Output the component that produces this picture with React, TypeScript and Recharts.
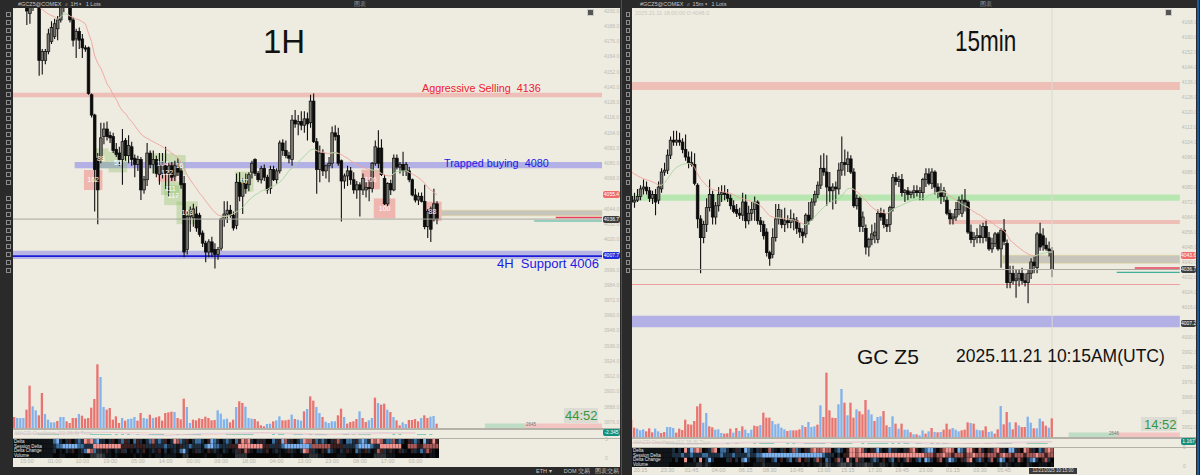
import { Bar, BarChart, Cell, ComposedChart, Line, ReferenceArea, ReferenceLine, XAxis, YAxis } from "recharts";

// ---------- left chart (1H) : [open, high, low, close]
const leftCandles = [
  [4215, 4222, 4208, 4212], [4212, 4218, 4206, 4216], [4216, 4224, 4210, 4210], [4210, 4216, 4205, 4214],
  [4212, 4216, 4189, 4200], [4198, 4210, 4190, 4204], [4204, 4214, 4200, 4210], [4210, 4222, 4204, 4212],
  [4212, 4218, 4149, 4161], [4161, 4170, 4150, 4168], [4161, 4170, 4158, 4168], [4168, 4186, 4166, 4182],
  [4176, 4192, 4174, 4187], [4180, 4194, 4178, 4190], [4186, 4196, 4177, 4193], [4193, 4204, 4191, 4203],
  [4203, 4214, 4199, 4210], [4210, 4220, 4204, 4206], [4203, 4210, 4191, 4193], [4193, 4195, 4172, 4177],
  [4178, 4186, 4163, 4184], [4184, 4187, 4170, 4177], [4178, 4182, 4163, 4171], [4171, 4173, 4168, 4170],
  [4171, 4172, 4134, 4135], [4134, 4135, 4116, 4118], [4118, 4119, 4042, 4075], [4084, 4088, 4032, 4059],
  [4083, 4112, 4080, 4100], [4101, 4112, 4095, 4107], [4107, 4113, 4098, 4101], [4102, 4105, 4096, 4100],
  [4101, 4104, 4088, 4090], [4091, 4096, 4085, 4087], [4088, 4093, 4078, 4083], [4083, 4107, 4063, 4097],
  [4098, 4100, 4082, 4086], [4086, 4102, 4080, 4094], [4093, 4097, 4078, 4083], [4084, 4087, 4069, 4079],
  [4079, 4086, 4074, 4083], [4083, 4085, 4051, 4059], [4059, 4070, 4056, 4067], [4067, 4096, 4062, 4088],
  [4088, 4090, 4076, 4079], [4079, 4090, 4072, 4083], [4083, 4086, 4069, 4072], [4071, 4088, 4063, 4078],
  [4072, 4088, 4068, 4081], [4078, 4093, 4060, 4072], [4072, 4080, 4054, 4078], [4078, 4081, 4066, 4069],
  [4070, 4082, 4066, 4078], [4077, 4084, 4070, 4073], [4074, 4076, 4060, 4063], [4064, 4070, 4006, 4010],
  [4012, 4042, 4008, 4038], [4038, 4046, 4026, 4043], [4037, 4048, 4030, 4044], [4040, 4046, 4026, 4029],
  [4039, 4041, 4022, 4024], [4025, 4027, 4014, 4017], [4017, 4019, 4002, 4010], [4010, 4020, 4006, 4018],
  [4018, 4022, 4006, 4010], [4012, 4017, 3997, 4008], [4008, 4014, 4004, 4012], [4013, 4037, 4011, 4036],
  [4036, 4050, 4030, 4040], [4040, 4050, 4033, 4043], [4043, 4047, 4037, 4039], [4039, 4042, 4027, 4029],
  [4031, 4072, 4028, 4065], [4065, 4073, 4050, 4054], [4054, 4068, 4040, 4064], [4064, 4072, 4056, 4060],
  [4063, 4073, 4058, 4071], [4073, 4082, 4068, 4080], [4083, 4084, 4070, 4072], [4072, 4074, 4065, 4067],
  [4067, 4078, 4064, 4076], [4076, 4079, 4066, 4069], [4069, 4071, 4056, 4059], [4060, 4078, 4056, 4075],
  [4075, 4078, 4066, 4067], [4067, 4076, 4064, 4074], [4074, 4098, 4072, 4096], [4096, 4099, 4086, 4090],
  [4090, 4098, 4084, 4086], [4086, 4089, 4080, 4084], [4083, 4118, 4078, 4114], [4114, 4122, 4108, 4111],
  [4111, 4118, 4102, 4113], [4113, 4121, 4106, 4110], [4110, 4121, 4104, 4115], [4115, 4120, 4098, 4111],
  [4112, 4134, 4108, 4129], [4129, 4135, 4096, 4097], [4097, 4100, 4056, 4075], [4075, 4094, 4065, 4088],
  [4088, 4091, 4070, 4074], [4074, 4079, 4068, 4078], [4078, 4085, 4065, 4080], [4080, 4109, 4076, 4104],
  [4104, 4110, 4098, 4101], [4102, 4108, 4078, 4080], [4082, 4083, 4034, 4066], [4066, 4072, 4060, 4070],
  [4070, 4078, 4062, 4074], [4074, 4077, 4063, 4067], [4067, 4073, 4056, 4059], [4059, 4066, 4052, 4063],
  [4063, 4065, 4038, 4059], [4059, 4072, 4055, 4068], [4059, 4065, 4053, 4061], [4061, 4067, 4050, 4060],
  [4060, 4081, 4057, 4080], [4080, 4098, 4078, 4093], [4092, 4106, 4076, 4080], [4092, 4099, 4070, 4071],
  [4068, 4071, 4047, 4048], [4048, 4065, 4046, 4064], [4064, 4067, 4055, 4059], [4059, 4087, 4058, 4084],
  [4084, 4087, 4075, 4077], [4077, 4081, 4072, 4079], [4079, 4089, 4070, 4074], [4074, 4081, 4070, 4079],
  [4074, 4077, 4065, 4067], [4067, 4068, 4054, 4055], [4055, 4060, 4049, 4051], [4051, 4057, 4047, 4054],
  [4054, 4057, 4049, 4050], [4050, 4063, 4028, 4030], [4030, 4044, 4021, 4042], [4044, 4046, 4018, 4028],
  [4036, 4060, 4034, 4048], [4048, 4050, 4032, 4036],
];

const leftAverage = [
  4202.1, 4203.4, 4204.8, 4206, 4208, 4208, 4207, 4205, 4203, 4201.3, 4199.2, 4197.7, 4196.4, 4195.6, 4193.5, 4195.6,
  4197.7, 4197.7, 4196, 4195, 4193.7, 4193, 4191.6, 4189.8, 4182.4, 4175.8, 4164.5, 4158.8, 4154.8, 4149, 4142.5, 4139,
  4133.8, 4130.4, 4125.1, 4121.2, 4119.3, 4115.4, 4112.8, 4109.6, 4106.2, 4103, 4101, 4099.6, 4098.3, 4097, 4095.7,
  4094.4, 4093, 4091.2, 4089.9, 4087.8, 4086.2, 4084.4, 4080.7, 4076, 4070.7, 4066.8, 4063.4, 4060.2, 4056.3, 4053.7,
  4050.2, 4047.1, 4043.7, 4041.3, 4039.2, 4038.4, 4037.9, 4038.4, 4039.2, 4040.5, 4041.8, 4043.1, 4045.2, 4047.9, 4051,
  4053.1, 4055, 4056.3, 4058.1, 4058.9, 4059.4, 4061, 4062.3, 4063.4, 4065.2, 4067.6, 4070.7, 4074.2, 4076, 4078.1,
  4081.2, 4083.1, 4085.7, 4088.3, 4090.4, 4091.2, 4089.9, 4089.1, 4088.6, 4088, 4087.5, 4088.3, 4088.3, 4087.8, 4086.8,
  4085.2, 4083.9, 4082, 4080.5, 4079.1, 4078.1, 4077, 4076, 4075.2, 4074.7, 4074.2, 4073.4, 4072, 4070.7, 4070.2, 4069.9,
  4072, 4073.4, 4073.9, 4073.9, 4074.2, 4072.8, 4071.5, 4070.2, 4068.6, 4066.8, 4064.2, 4061, 4058.9, 4057, 4055,
];

// positive = red bar, negative = blue bar
const leftVolume = [
  330, -300, -300, -300, 550, 1270, -650, -530, 380, 1050, -420, -250, -170, -170, 210, -330, -330, 200, 150, 300, 300,
  -420, 370, 280, 300, 610, 870, 1910, -1530, -630, 550, 600, 250, 350, 150, -300, 220, -270, -280, -330, 220, 450,
  -300, -280, 400, -300, 320, 350, 220, 450, 470, 490, -480, 300, 260, 880, -630, -150, 250, 230, 290, 270, 340, 300,
  230, 240, -530, -430, -260, -280, 170, 250, -630, 800, 750, -640, -300, -280, 270, 200, 80, 50, -120, -130, 200, -230,
  -350, 230, 230, 250, -400, 270, -250, -220, 500, -570, 950, 820, -630, -450, 330, -190, -150, -200, -200, 380, 580,
  -330, 130, 180, 200, 270, -500, 300, 180, -230, -300, 910, -750, 700, 730, -550, 480, -330, 230, 80, -170, -120, 240,
  240, 270, 200, -300, 380, 300, -340, -360, 130,
];

const leftTimeSlots = [4, 13, 22, 31, 40, 49, 58, 67, 76, 85, 94, 103, 112, 121, 130];
const leftTimeLabels = ["15:00", "01:00", "10:00", "19:00", "05:00", "14:00", "00:00", "09:00", "18:00", "04:00", "13:00", "23:00", "08:00", "17:00", "03:00"];

const leftDeltaCells = ".............bBdkdmkdbdRrRbBddkdmkdbmdkbmdkdbrdbdmkdRrbdmkdbbdkmBbdkdbdkbmRrRdkdmdkkbdmBrdmkdbRrrmbdbdkdmrdkbbdmbBbdRrRrdbbrdbdkmdbdkBdmRm";
const leftSessionCells = ".............dbbBBBBBbbdddRRRRRRRRRmmmmdmmmddmdddbddd.mddbddd.bBBbbdddmmmRRRRRRRRmmddmdbBBBBBBBBbrrrrrrmmmmddddbBBBBbddRRRRRRRkkrrrmmrrrrr";
const leftChangeCells = ".............dk.kd.mk.dbRrbdm.m.kd.mdk.kd.mk.d.mkdk.d.bBdk.md.km.d.kd.k.dm.rm.kdd.mk.d.k.md.kdRrmd.km.bd.kd.m.kbd.mdk.rmd.m.kmd.kmd.bdrm.k";
const leftMacdCells = "........ttttttt..........ttttttt.t.t.t..t...ttttt....t.tttttt........ttttttttt......t.tt...ttt..t.tttt.....tt.t.tttt.......t.t.....ttt.t..";

const leftMacdLine = [2, 1, 3, 4, -1, -3, 1, 2, 3, 0, -2, 2, 3, 2];
const leftSignalLine = [-1, 0, 1, 3, 3, 0, -2, 0, 2, 2, 0, -1, 1, 2];

// footprint boxes : [first slot, last slot, top price, bottom price, count, colour]
const leftBoxes = [
  [23, 28, 4074.7, 4058.9, "162", "red"], [26, 30, 4091.8, 4076, "88", "green"], [31, 36, 4089, 4072.8, "55", "green"],
  [45, 51, 4087.8, 4072, "104", "green"], [52, 55, 4086.5, 4070.7, "16", "green"], [47, 52, 4080, 4065.5, "122", "red"],
  [48, 53, 4065.5, 4055, "111", "green"], [49, 54, 4062.8, 4047, "117", "green"], [53, 59, 4050, 4032, "103", "green"],
  [72, 77, 4073.4, 4057.6, "77", "green"], [113, 118, 4075, 4059.4, "106", "red"], [117, 123, 4052.3, 4036.6, "100", "red"],
  [133, 138, 4049.7, 4034.5, "88", "red"],
];

// ---------- right chart (15min)
const rightCandles = [
  [4075, 4079, 4070, 4072], [4072, 4077, 4069, 4073], [4073, 4079, 4072, 4075], [4075, 4081, 4073, 4079],
  [4079, 4084, 4076, 4080], [4080, 4083, 4076, 4078], [4078, 4080, 4072, 4074], [4074, 4078, 4071, 4076],
  [4076, 4079, 4065, 4072], [4073, 4083, 4071, 4080], [4079, 4090, 4077, 4088], [4088, 4093, 4086, 4089],
  [4089, 4100, 4087, 4097], [4097, 4107, 4095, 4105], [4105, 4110, 4102, 4104], [4104, 4110, 4102, 4105],
  [4105, 4109, 4102, 4104], [4104, 4106, 4098, 4100], [4100, 4108, 4094, 4096], [4096, 4099, 4090, 4093],
  [4093, 4099, 4091, 4092], [4092, 4098, 4081, 4082], [4081, 4082, 4058, 4063], [4063, 4065, 4034, 4053],
  [4053, 4062, 4050, 4060], [4060, 4074, 4056, 4069], [4069, 4084, 4067, 4076], [4076, 4078, 4060, 4064],
  [4064, 4072, 4060, 4070], [4070, 4080, 4067, 4076], [4076, 4081, 4072, 4077], [4077, 4081, 4073, 4076],
  [4076, 4079, 4072, 4074], [4074, 4076, 4068, 4070], [4070, 4073, 4066, 4067], [4068, 4071, 4064, 4066],
  [4066, 4069, 4063, 4065], [4065, 4077, 4062, 4072], [4072, 4076, 4058, 4062], [4062, 4070, 4060, 4066],
  [4066, 4072, 4062, 4068], [4068, 4075, 4062, 4072], [4072, 4073, 4060, 4062], [4062, 4064, 4056, 4060],
  [4060, 4062, 4052, 4054], [4056, 4058, 4043, 4045], [4045, 4046, 4038, 4042], [4044, 4058, 4042, 4053],
  [4053, 4071, 4051, 4063], [4063, 4071, 4060, 4068], [4063, 4068, 4058, 4060], [4060, 4069, 4056, 4062],
  [4062, 4065, 4058, 4061], [4061, 4068, 4058, 4063], [4063, 4066, 4057, 4062], [4062, 4064, 4055, 4058],
  [4058, 4061, 4053, 4056], [4056, 4058, 4050, 4054], [4055, 4066, 4053, 4065], [4065, 4072, 4060, 4062],
  [4063, 4074, 4062, 4072], [4072, 4078, 4070, 4076], [4076, 4083, 4074, 4081], [4081, 4097, 4079, 4090],
  [4090, 4098, 4086, 4088], [4088, 4097, 4070, 4080], [4080, 4088, 4072, 4078], [4078, 4082, 4068, 4080],
  [4080, 4083, 4071, 4079], [4079, 4093, 4076, 4089], [4089, 4107, 4086, 4093], [4093, 4100, 4086, 4092],
  [4092, 4099, 4088, 4095], [4095, 4097, 4087, 4088], [4088, 4090, 4069, 4070], [4070, 4076, 4068, 4074],
  [4074, 4075, 4056, 4059], [4059, 4067, 4056, 4064], [4058, 4060, 4044, 4048], [4048, 4053, 4043, 4052],
  [4052, 4060, 4049, 4055], [4054, 4061, 4050, 4056], [4052, 4068, 4050, 4066], [4066, 4069, 4062, 4064],
  [4066, 4068, 4058, 4060], [4060, 4063, 4056, 4059], [4060, 4070, 4056, 4069], [4069, 4087, 4067, 4085],
  [4085, 4088, 4081, 4083], [4083, 4086, 4080, 4084], [4084, 4087, 4075, 4077], [4077, 4079, 4072, 4078],
  [4078, 4080, 4073, 4076], [4076, 4078, 4074, 4077], [4077, 4081, 4074, 4078], [4078, 4081, 4075, 4077],
  [4077, 4080, 4073, 4078], [4077, 4085, 4073, 4084], [4084, 4090, 4080, 4087], [4087, 4090, 4081, 4082],
  [4082, 4090, 4079, 4088], [4088, 4089, 4076, 4080], [4080, 4082, 4074, 4077], [4077, 4082, 4071, 4075],
  [4075, 4080, 4072, 4078], [4073, 4075, 4065, 4066], [4066, 4068, 4060, 4063], [4063, 4066, 4060, 4064],
  [4064, 4072, 4062, 4068], [4068, 4075, 4065, 4073], [4066, 4076, 4064, 4073], [4073, 4079, 4067, 4072],
  [4072, 4073, 4055, 4056], [4056, 4060, 4050, 4052], [4052, 4056, 4048, 4053], [4053, 4058, 4050, 4054],
  [4054, 4060, 4050, 4053], [4053, 4061, 4050, 4059], [4059, 4062, 4051, 4053], [4053, 4056, 4046, 4047],
  [4047, 4053, 4045, 4050], [4050, 4056, 4048, 4055], [4055, 4056, 4046, 4047], [4047, 4058, 4037, 4057],
  [4057, 4063, 4049, 4051], [4050, 4052, 4026, 4029], [4029, 4038, 4026, 4034], [4034, 4038, 4028, 4030],
  [4030, 4036, 4021, 4031], [4031, 4036, 4027, 4034], [4034, 4037, 4028, 4030], [4030, 4034, 4027, 4029],
  [4029, 4036, 4018, 4034], [4034, 4042, 4031, 4040], [4040, 4043, 4034, 4038], [4037, 4056, 4034, 4055],
  [4055, 4061, 4046, 4048], [4054, 4058, 4046, 4049], [4049, 4053, 4046, 4047], [4047, 4051, 4043, 4046],
  [4046, 4048, 4032, 4036],
];

const rightAverage = [
  4088, 4087, 4086, 4085.2, 4084.4, 4083.9, 4083.4, 4082.7, 4082, 4081, 4081, 4082.3, 4084.3, 4086.8, 4089, 4090.5,
  4091.4, 4092.1, 4092.4, 4092.6, 4092.3, 4090.5, 4086.9, 4084.3, 4082.5, 4080.7, 4079.5, 4078.8, 4078.2, 4077.9,
  4077.5, 4077.2, 4077, 4076.6, 4075.9, 4075, 4074.3, 4073.8, 4073.2, 4072.7, 4072.4, 4071.8, 4071, 4069.9, 4068.3,
  4066.3, 4064.7, 4064, 4063.6, 4063.5, 4063.3, 4063.1, 4063, 4062.6, 4062.4, 4061.9, 4061.2, 4060.4, 4059.7, 4061,
  4062.4, 4064.2, 4066, 4067.7, 4069.2, 4070.7, 4071.8, 4072.5, 4073.2, 4073.8, 4075.2, 4077.5, 4079.1, 4079.3, 4078.8,
  4077.5, 4076.3, 4074.3, 4072.7, 4071, 4069.2, 4068.1, 4067.4, 4066.8, 4066.3, 4065.8, 4066.8, 4068.1, 4069, 4069.7,
  4070.4, 4071.1, 4071.8, 4072.5, 4073.1, 4073.4, 4073.8, 4074, 4074.3, 4075.7, 4076.3, 4076.8, 4077.2, 4077.5, 4077.5,
  4076.6, 4075.2, 4074.1, 4073, 4072, 4070.8, 4069.9, 4069.2, 4067.9, 4066.8, 4065.8, 4065, 4063.8, 4062.8, 4061.9, 4061,
  4059.7, 4058.5, 4057.4, 4056.7, 4054.6, 4051.7, 4050.3, 4048.9, 4047.6, 4046.4, 4045.2, 4044.3, 4043.6, 4043.2, 4043.6,
  4044.3, 4044.6, 4045, 4045.3, 4045.3,
];

const rightVolume = [
  520, 280, -250, -200, -230, 170, 260, 140, -250, -170, 120, 150, -300, -300, -270, 130, 250, 210, 520, 380, 370, 480,
  920, 1000, -430, -720, 320, 290, -220, -230, -120, 100, 110, 250, -130, 270, -180, 320, -220, -120, -220, 340, 320,
  -360, 730, 580, 580, -480, -380, -400, -280, -230, 180, -200, 200, 200, 230, -350, 300, -450, -300, -320, 370, -950,
  600, 1930, 800, 580, 570, -980, -1440, 1030, -650, 1030, 580, -830, 770, 680, 1110, -820, -680, 480, -600, -620, 780,
  350, -300, -620, 400, -250, 400, -220, -220, 140, -80, 80, -50, -200, 100, -170, 270, -150, 140, -150, 220, 400, 230,
  -270, -220, -170, 200, 220, 440, -420, 400, -220, -200, 200, 320, -150, -170, 100, 230, -930, 380, 750, -440, 230,
  440, -350, 300, 300, -610, -430, 260, -260, -550, 470, 340, -280, 560,
];

const rightTimeSlots = [3, 12, 20, 29, 38, 46, 55, 64, 72, 81, 90, 98, 107, 116, 124];
const rightTimeLabels = ["20:15", "23:30", "01:45", "04:00", "06:15", "08:30", "10:45", "13:00", "15:15", "17:30", "19:45", "23:00", "01:15", "03:30", "05:45"];

const rightDeltaCells = "..............dkdkRdBrRrk.drRkbbdk.mdkBbdkdmk.rd.kdmkdrbdkmdrRrrRrrkdbdkmRRrRrdkmdBdk.bmd.kdmrRmkdbBBdkmrRRrkBbdRRmkrdkmdrRmdkBBdmkRrmdkbdrRr";
const rightSessionCells = "..............dddbddbdddbbddddbdddbddddbddbbBBBBBBBBBBBBBBBBBBBBbdddkdkmmRRrRRRRRRRRRRRRRRRRRRRRRRrrrmrrRrrmrrrmrrRrrrmrrrmrRrrmrrrmrrrRrrmrr";
const rightChangeCells = "..............kdkkRkkdkRkdBdkkkkdmkdkbBdkkdmdkkdbkmkdbkdrkmdkdrmkbdkmrdkRdkrmdkkdbdkmkdbkmkdrmkdbkBbdkmrkdBbdkmdrRkdbmkdrkdBbkmdkrmkdbBdkmrdk";
const rightMacdCells = "............tttttt.ttttttt......t..t.....t.ttttt....t.t...ttttttt..ttttttt...t.ttttttt.t.t.tt..tt...t.t.tt.....ttttt..tt..ttttt.....ttttttt";

const rightMacdLine = [1, -1, -3, 0, 2, 1, -1, 2, 3, 1, -2, -1, 0, 2, 3];
const rightSignalLine = [0, 1, -1, -2, 0, 2, 1, 0, 2, 3, 1, -1, -1, 0, 2];

const leftPriceTicks = [3876, 3888, 3900, 3912, 3924, 3936, 3948, 3960, 3972, 3984, 3996, 4020, 4032, 4044, 4068, 4080, 4092, 4104, 4116, 4128, 4140, 4152, 4164, 4176, 4188, 4200];
const rightPriceTicks = [3952, 3960, 3968, 3976, 3984, 3992, 4000, 4016, 4024, 4032, 4040, 4048, 4056, 4064, 4072, 4080, 4088, 4096, 4104, 4112, 4120, 4128, 4136, 4144, 4152, 4160, 4168];

const BG = "#eeebe1";
const DARK = "#2a2a2a";
const FONT = "'Liberation Sans', Arial, sans-serif";

const HEAT: any = {
  B: "#7db2ee", b: "#3d6f9e", d: "#1d2f40", k: "#050505", ".": "#11161a", m: "#3d2020", r: "#a85a58", R: "#f09490",
  h: "#2e3236", g: "#4a4e52",
};

const GREEN_BOX = "rgba(130,190,90,0.32)";
const RED_BOX = "rgba(240,110,110,0.42)";

// draws wick and body from the bar's own [low, high] rectangle
const Candle = (props: any) => {
  const { x, y, width, height, payload } = props;
  if (payload.open == null || !height) return null;
  const perUnit = height / (payload.high - payload.low);
  const cx = x + width / 2;
  const top = y + (payload.high - Math.max(payload.open, payload.close)) * perUnit;
  const bodyH = Math.max(Math.abs(payload.open - payload.close) * perUnit, 1);
  const up = payload.close >= payload.open;
  return (
    <g>
      <line x1={cx} x2={cx} y1={y} y2={y + height} stroke="#111" strokeWidth={1.1} />
      <rect x={cx - 1.35} y={top} width={2.7} height={bodyH} fill={up ? "#77776f" : "#0c0c0c"} stroke="#0c0c0c" strokeWidth={0.7} />
    </g>
  );
};

function buildRows(candles: any[], average: number[], volume: number[], slots: number) {
  const rows: any[] = [];
  for (let i = 0; i < slots; i++) {
    const c = candles[i];
    if (!c) {
      rows.push({ slot: i });
      continue;
    }
    const [open, high, low, close] = c;
    const ma = average[i];
    const red = ma >= close;
    const prev = i > 0 ? average[i - 1] >= candles[i - 1][3] : red;
    const next = candles[i + 1] ? average[i + 1] >= candles[i + 1][3] : red;
    rows.push({
      slot: i,
      open,
      high,
      low,
      close,
      range: [low, high],
      maRed: red || prev || next ? ma : null,
      maGreen: !red || !prev || !next ? ma : null,
      volume: Math.abs(volume[i] ?? 0),
      side: (volume[i] ?? 0) >= 0 ? "r" : "b",
    });
  }
  return rows;
}

function buildHeatRows(count: number, delta: string, session: string, change: string, volume: number[]) {
  const rows: any[] = [];
  for (let i = 0; i < count; i++) {
    const v = Math.abs(volume[i] ?? 0);
    rows.push({
      slot: i,
      a: 1,
      b: 1,
      c: 1,
      d: 1,
      delta: delta[i] ?? ".",
      session: session[i] ?? ".",
      change: change[i] ?? ".",
      vol: i < 13 ? "." : v > 1000 ? "g" : v > 600 ? "h" : v > 300 ? "." : "k",
    });
  }
  return rows;
}

function buildMacdRows(count: number, cells: string, macd: number[], signal: number[]) {
  const rows: any[] = [];
  for (let i = 0; i < count; i++) {
    rows.push({
      slot: i,
      hist: cells[i] === "t" ? -1.5 : 0,
      macd: i % 10 === 0 ? macd[i / 10] ?? null : null,
      signal: i % 10 === 0 ? signal[i / 10] ?? null : null,
    });
  }
  return rows;
}

const pos = (left: number, top: number, extra: any = {}) => ({ position: "absolute", left, top, ...extra }) as any;

const Tag = ({ left, top, width, bg, text, color = "#fff" }: any) => (
  <div
    style={pos(left, top, {
      width,
      height: 7,
      lineHeight: "7px",
      background: bg,
      color,
      fontSize: 5,
      fontFamily: FONT,
      textAlign: "center",
      borderRadius: 2,
      zIndex: 5,
    })}
  >
    {text}
  </div>
);

const Note = ({ left, top, size, color = "#111", text, z = 6, scaleX }: any) => (
  <div
    style={pos(left, top, {
      fontSize: size,
      color,
      fontFamily: FONT,
      whiteSpace: "pre",
      lineHeight: 1,
      zIndex: z,
      transform: scaleX ? `scaleX(${scaleX})` : undefined,
      transformOrigin: "left",
    })}
  >
    {text}
  </div>
);

function Panel({ cfg }: any) {
  const rows = buildRows(cfg.candles, cfg.average, cfg.volume, cfg.slots);
  const count = cfg.candles.length;
  const heatRows = buildHeatRows(count, cfg.delta, cfg.session, cfg.change, cfg.volume);
  const macdRows = buildMacdRows(count, cfg.macdCells, cfg.macd, cfg.signal);
  const step = cfg.plotW / cfg.slots;
  const last = cfg.slots - 1;
  const timeLabel = (s: number) => cfg.timeLabels[cfg.timeSlots.indexOf(s)] ?? "";
  const heatW = step * count;
  return (
    <>
      <div style={pos(cfg.left, cfg.top)}>
        <ComposedChart width={cfg.plotW + cfg.axisW} height={cfg.priceH} data={rows} margin={{ top: 0, right: 0, bottom: 0, left: 0 }} barCategoryGap={0}>
          <XAxis dataKey="slot" hide />
          <YAxis
            orientation="right"
            width={cfg.axisW}
            domain={cfg.domain}
            allowDataOverflow
            ticks={cfg.ticks}
            interval={0}
            axisLine={false}
            tickLine={false}
            tickSize={0}
            tickMargin={2}
            tick={{ fontSize: 5, fill: "#bcbcb2", fontFamily: FONT }}
            tickFormatter={(v: number) => v.toFixed(1)}
          />
          {cfg.bands.map((b: any, i: number) => (
            <ReferenceArea key={i} x1={b[0]} x2={Math.min(b[1], last)} y1={b[2]} y2={b[3]} fill={b[4]} fillOpacity={1} stroke={b[5] ?? "none"} strokeWidth={0.6} />
          ))}
          {(cfg.boxes ?? []).map((b: any, i: number) => (
            <ReferenceArea
              key={`box-${i}`}
              x1={b[0]}
              x2={b[1]}
              y1={b[2]}
              y2={b[3]}
              fill={b[5] === "red" ? RED_BOX : GREEN_BOX}
              fillOpacity={1}
              stroke="none"
              label={{ value: b[4], fill: "#fff", fontSize: 7, fontFamily: FONT }}
            />
          ))}
          <ReferenceLine y={cfg.lastPrice} stroke="#a8a8a0" strokeWidth={1} />
          {cfg.cursor != null && <ReferenceLine x={cfg.cursor} stroke="#dcdad0" strokeWidth={1} />}
          <Bar dataKey="range" shape={Candle} isAnimationActive={false} />
          <Line dataKey="maRed" stroke="#f0a49c" strokeWidth={0.9} dot={false} isAnimationActive={false} connectNulls={false} />
          <Line dataKey="maGreen" stroke="#a6d6a2" strokeWidth={0.9} dot={false} isAnimationActive={false} connectNulls={false} />
        </ComposedChart>
      </div>

      <div style={pos(cfg.left, cfg.volBase - 100, { zIndex: 2 })}>
        <BarChart width={cfg.plotW} height={100} data={rows} margin={{ top: 0, right: 0, bottom: 0, left: 0 }} barCategoryGap={0}>
          <XAxis dataKey="slot" hide />
          <YAxis hide domain={[0, 3000]} />
          {cfg.imbalance.map((b: any, i: number) => (
            <ReferenceArea key={i} x1={b[0]} x2={b[1]} y1={0} y2={135} fill={b[2]} fillOpacity={1} stroke="none" />
          ))}
          <Bar dataKey="volume" barSize={2.3} isAnimationActive={false}>
            {rows.map((r: any) => (
              <Cell key={r.slot} fill={r.side === "r" ? "#e8736f" : "#82b2ec"} />
            ))}
          </Bar>
        </BarChart>
      </div>

      <div style={pos(cfg.stripLeft, cfg.volBase, { width: cfg.stripW, height: 1.5, background: "#b4b2a8", zIndex: 3 })} />
      <div style={pos(cfg.stripLeft, cfg.volBase + 9.5, { width: cfg.stripW, height: 1.5, background: "#b4b2a8", zIndex: 3 })} />

      <div style={pos(cfg.left, cfg.volBase + 1.5, { zIndex: 3 })}>
        <ComposedChart width={heatW} height={8} data={macdRows} margin={{ top: 0, right: 0, bottom: 0, left: 0 }} barCategoryGap={0}>
          <XAxis dataKey="slot" hide />
          <YAxis hide domain={[-8, 8]} />
          <Bar dataKey="hist" fill="#58c0ac" isAnimationActive={false} />
          <Line dataKey="macd" stroke="#d8c0e2" strokeWidth={0.6} dot={false} connectNulls isAnimationActive={false} />
          <Line dataKey="signal" stroke="#f2c0b8" strokeWidth={0.6} dot={false} connectNulls isAnimationActive={false} />
        </ComposedChart>
      </div>
      <Note left={cfg.stripLeft + 2} top={cfg.volBase + 3} size={5.5} color="#c9c9c0" text="MACD Oscillator (12,26,9) True" z={4} />

      <div style={pos(cfg.stripLeft, cfg.heatTop, { width: cfg.left + heatW - cfg.stripLeft, height: 19, background: "#000", zIndex: 3 })} />
      <div style={pos(cfg.left, cfg.heatTop, { zIndex: 4 })}>
        <BarChart width={heatW} height={19 + cfg.timeH} data={heatRows} margin={{ top: 0, right: 0, bottom: 0, left: 0 }} barCategoryGap={0}>
          <XAxis
            dataKey="slot"
            height={cfg.timeH}
            ticks={cfg.timeSlots}
            interval={0}
            axisLine={false}
            tickLine={false}
            tickSize={0}
            tickMargin={1}
            tick={{ fontSize: 5.5, fill: "#b4b4aa", fontFamily: FONT }}
            tickFormatter={timeLabel}
          />
          <YAxis hide domain={[0, 4]} />
          <Bar dataKey="d" stackId="h" isAnimationActive={false}>
            {heatRows.map((r: any) => <Cell key={r.slot} fill={HEAT[r.vol]} />)}
          </Bar>
          <Bar dataKey="c" stackId="h" isAnimationActive={false}>
            {heatRows.map((r: any) => <Cell key={r.slot} fill={HEAT[r.change] ?? HEAT["."]} />)}
          </Bar>
          <Bar dataKey="b" stackId="h" isAnimationActive={false}>
            {heatRows.map((r: any) => <Cell key={r.slot} fill={HEAT[r.session] ?? HEAT["."]} />)}
          </Bar>
          <Bar dataKey="a" stackId="h" isAnimationActive={false}>
            {heatRows.map((r: any) => <Cell key={r.slot} fill={HEAT[r.delta] ?? HEAT["."]} />)}
          </Bar>
        </BarChart>
      </div>
      {["Delta", "Session Delta", "Delta Change", "Volume"].map((t, i) => (
        <Note key={t} left={cfg.stripLeft + 1} top={cfg.heatTop + 0.8 + i * 4.7} size={4.5} color="#e8e8e8" text={t} />
      ))}
    </>
  );
}

const leftCfg = {
  left: 13,
  top: 8,
  plotW: 589,
  axisW: 18,
  priceH: 420,
  slots: 191,
  domain: [3871.3, 4202.4],
  ticks: leftPriceTicks,
  candles: leftCandles,
  average: leftAverage,
  volume: leftVolume,
  delta: leftDeltaCells,
  session: leftSessionCells,
  change: leftChangeCells,
  macdCells: leftMacdCells,
  macd: leftMacdLine,
  signal: leftSignalLine,
  timeSlots: leftTimeSlots,
  timeLabels: leftTimeLabels,
  lastPrice: 4036,
  boxes: leftBoxes,
  // [first slot, last slot, top, bottom, fill, edge]
  bands: [
    [0, 190, 4135.5, 4132, "rgba(240,120,115,0.38)"],
    [20, 190, 4081, 4076, "rgba(95,95,235,0.42)"],
    [0, 190, 4011, 4004.6, "rgba(95,95,235,0.38)"],
    [0, 190, 4007.4, 4006.2, "#1c1cd8"],
    [139, 190, 4043, 4038.6, "rgba(120,120,110,0.33)", "rgba(225,215,140,0.8)"],
    [176, 190, 4037.8, 4036.6, "#e8405a"],
    [169, 190, 4034.8, 4034, "#3fb09a"],
  ],
  imbalance: [[153, 166, "#bfdcc4"], [166, 190, "#f2c5c2"]],
  volBase: 428,
  stripLeft: 13,
  stripW: 607,
  heatTop: 439,
  timeH: 9,
};

const rightCfg = {
  left: 630.2,
  top: 8,
  plotW: 549.8,
  axisW: 16,
  priceH: 429,
  slots: 183,
  domain: [3946.67, 4175.5],
  ticks: rightPriceTicks,
  candles: rightCandles,
  average: rightAverage,
  volume: rightVolume,
  delta: rightDeltaCells,
  session: rightSessionCells,
  change: rightChangeCells,
  macdCells: rightMacdCells,
  macd: rightMacdLine,
  signal: rightSignalLine,
  timeSlots: rightTimeSlots,
  timeLabels: rightTimeLabels,
  lastPrice: 4036,
  cursor: 140,
  bands: [
    [0, 182, 4136, 4131.7, "rgba(240,120,115,0.38)"],
    [0, 182, 4076, 4072.7, "rgba(110,225,110,0.42)"],
    [106, 182, 4062.4, 4060.3, "rgba(240,120,115,0.38)"],
    [124, 182, 4043.6, 4039.3, "rgba(120,120,110,0.33)", "rgba(225,215,140,0.8)"],
    [0, 182, 4028.3, 4027.7, "#f0a09c"],
    [0, 182, 4011.4, 4005.2, "rgba(95,95,235,0.42)"],
    [168, 182, 4037.2, 4036.4, "#e8405a"],
    [162, 182, 4034.8, 4034.2, "#3fb09a"],
  ],
  imbalance: [[146, 162, "#bfdcc4"], [162, 182, "#f2c5c2"]],
  volBase: 437,
  stripLeft: 632,
  stripW: 564,
  heatTop: 448,
  timeH: 8,
};

const toolRows = [12, 20, 28, 36, 44, 52, 60, 68, 76, 84, 92, 100, 108, 116, 124, 132, 140, 148, 156, 164, 172, 180, 196, 204, 212, 220, 228, 236, 244, 252, 260, 268];

export default function App() {
  return (
    <div style={pos(0, 0, { position: "fixed", width: 1200, height: 475, overflow: "hidden", background: BG })}>
      <Panel cfg={leftCfg} />
      <Panel cfg={rightCfg} />

      {/* window chrome */}
      <div style={pos(0, 0, { width: 1200, height: 8, background: DARK, zIndex: 8 })} />
      <div style={pos(0, 0, { width: 13, height: 475, background: DARK, zIndex: 8 })} />
      <div style={pos(620, 0, { width: 12, height: 475, background: DARK, zIndex: 8 })} />
      <div style={pos(620.5, 0, { width: 1.6, height: 475, background: "#1c5c9c", zIndex: 9 })} />
      <div style={pos(1196, 0, { width: 4, height: 475, background: DARK, zIndex: 8 })} />
      <div style={pos(1197, 0, { width: 1.6, height: 475, background: "#1c5c9c", zIndex: 9 })} />
      <div style={pos(13, 467, { width: 607, height: 8, background: DARK, zIndex: 8 })} />
      {toolRows.map((y) => (
        <div key={y}>
          <div style={pos(6, y, { width: 2.5, height: 2.5, border: "0.5px solid #8c8c8c", zIndex: 9 })} />
          <div style={pos(625.5, y, { width: 2.5, height: 2.5, border: "0.5px solid #8c8c8c", zIndex: 9 })} />
        </div>
      ))}
      <Note left={18} top={1.5} size={5.5} color="#c4c4c4" text="#GCZ5@COMEX  ⌕  1H ▾   1 Lots" z={10} />
      <Note left={640} top={1.5} size={5.5} color="#c4c4c4" text="#GCZ5@COMEX  ⌕  15m ▾   1 Lots" z={10} />
      <Note left={354} top={1.5} size={5.5} color="#9a9a9a" text="图表" z={10} />
      <Note left={980} top={1.5} size={5.5} color="#9a9a9a" text="图表" z={10} />
      <Note left={536} top={469} size={5.5} color="#c4c4c4" text="ETH ▾        DOM 交易   图表交易" z={10} />
      <Note left={635} top={11} size={5.5} color="#c9c9c0" text="2025.21.11 18:00:00 O:4048.0" z={7} />
      <div style={pos(587, 9, { width: 5, height: 5, background: "#555", border: "1px solid #ccc", zIndex: 7 })} />
      <div style={pos(1165, 9, { width: 5, height: 5, background: "#555", border: "1px solid #ccc", zIndex: 7 })} />

      {/* annotations */}
      <Note left={263} top={25} size={33} text="1H" />
      <Note left={955} top={26} size={30} scaleX={0.75} text="15min" />
      <Note left={422} top={83} size={10.8} color="#f02030" text="Aggressive Selling  4136" />
      <Note left={444} top={158} size={10.8} color="#1a1ae8" text="Trapped buying  4080" />
      <Note left={497} top={257} size={13} color="#1a1ae8" text="4H  Support 4006" />
      <Note left={857} top={346} size={21} text="GC Z5" />
      <Note left={956} top={348} size={17.5} text="2025.11.21 10:15AM(UTC)" />

      <div style={pos(564, 408, { width: 34, height: 15, background: "#dcdcd4", zIndex: 5 })} />
      <Note left={565} top={409} size={13} color="#35983f" text="44:52" />
      <div style={pos(1141, 417, { width: 36, height: 14, background: "#dcdcd4", zIndex: 5 })} />
      <Note left={1144} top={418} size={13} color="#35983f" text="14:52" />
      <Note left={526} top={423} size={4.5} color="#777" text="2645" z={7} />
      <Note left={1109} top={432} size={4.5} color="#777" text="2646" z={7} />

      {/* price tags */}
      <Tag left={603} top={191} width={17} bg="#f06a68" text="4055.4" />
      <Tag left={603} top={216} width={17} bg="#3c3c3c" text="4036.7" />
      <Tag left={603} top={252} width={17} bg="#2030d8" text="4007.7" />
      <Tag left={603} top={429} width={17} bg="#13907e" text="-2.345" />
      <Tag left={1181} top={252} width={15} bg="#f06a68" text="4043.6" />
      <Tag left={1181} top={266} width={15} bg="#3c3c3c" text="4036.7" />
      <Tag left={1181} top={320} width={15} bg="#3c3c3c" text="4007.2" />
      <Tag left={1181} top={438} width={15} bg="#13907e" text="1.167" />
      <Note left={605} top={437} size={5} color="#bcbcb2" text="5" />
      <Note left={605} top={456} size={5} color="#bcbcb2" text="0" />
      <Note left={1183} top={445} size={5} color="#bcbcb2" text="5" />
      <Note left={1183} top={464} size={5} color="#bcbcb2" text="0" />
      <div style={pos(1029, 468, { width: 48, height: 6, lineHeight: "6px", background: "#3a3a3a", color: "#ddd", fontSize: 4.5, fontFamily: FONT, textAlign: "center", zIndex: 9 })}>
        11/21/2025 10:15:00 AM
      </div>
    </div>
  );
}
